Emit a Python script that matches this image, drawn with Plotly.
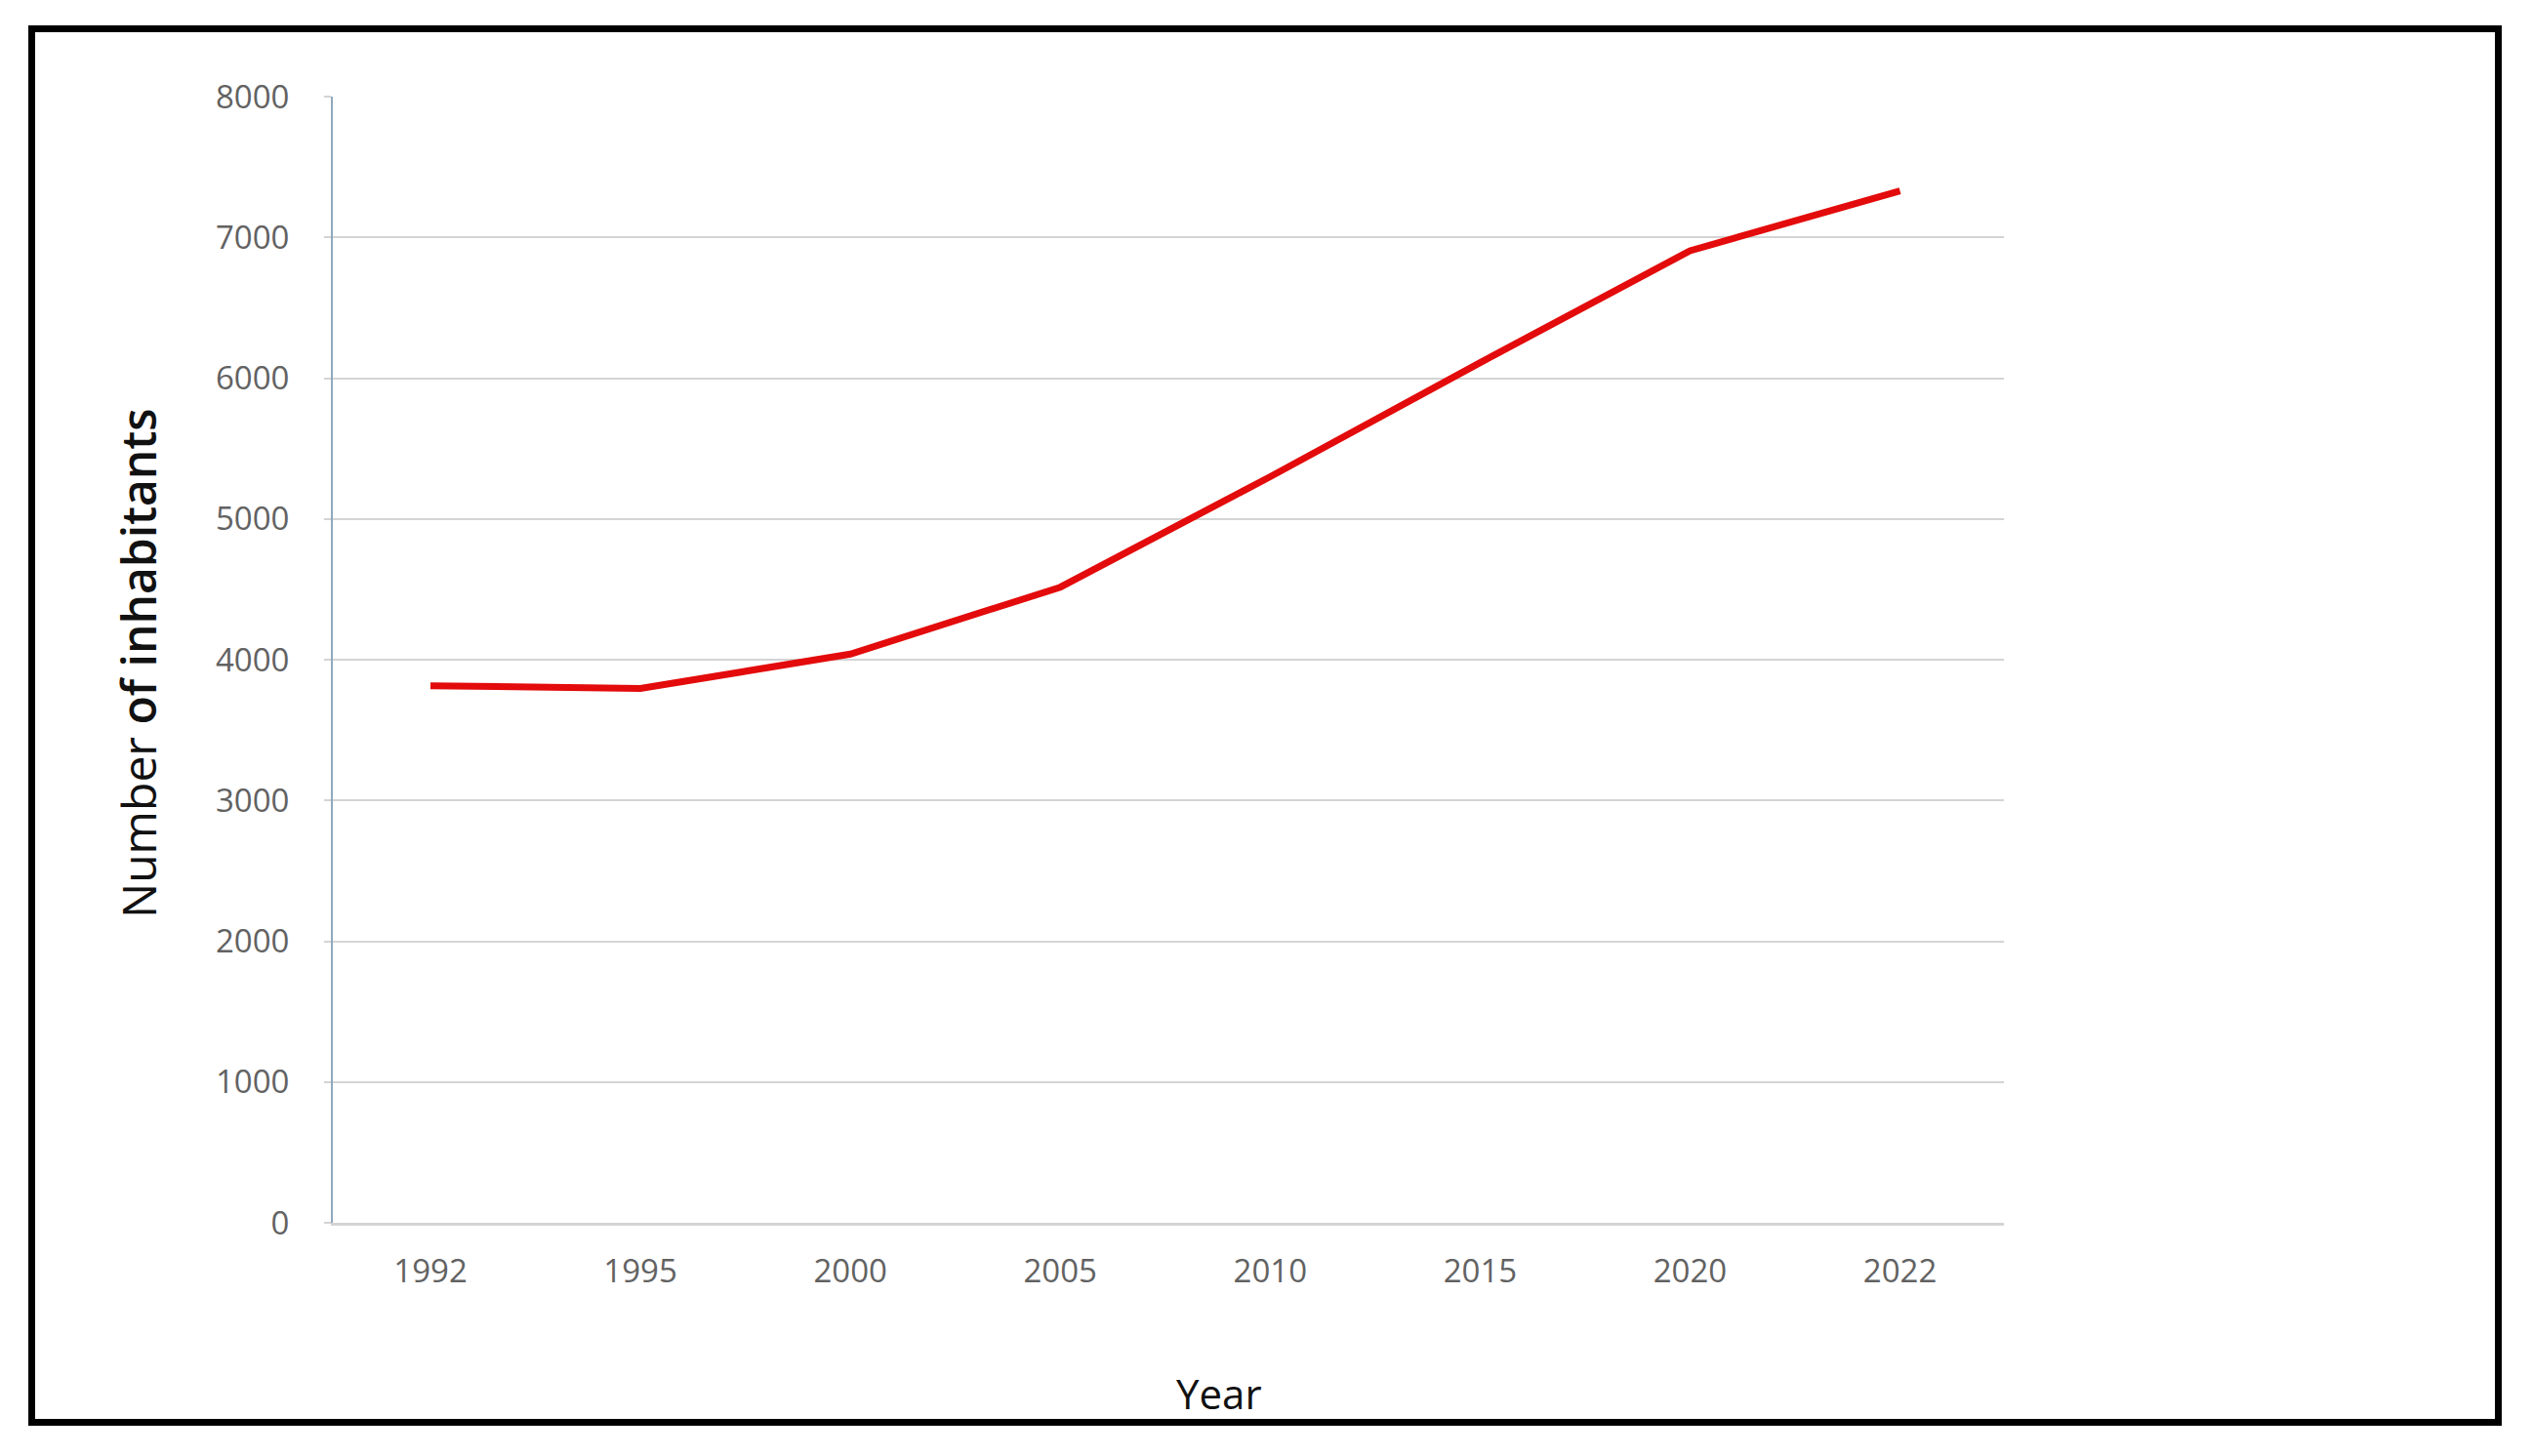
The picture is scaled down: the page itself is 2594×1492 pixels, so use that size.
import plotly.graph_objects as go

# ---- data ----
years = ["1992", "1995", "2000", "2005", "2010", "2015", "2020", "2022"]
inhabitants = [3815, 3795, 4040, 4515, 5300, 6110, 6905, 7330]
y_ticks = [0, 1000, 2000, 3000, 4000, 5000, 6000, 7000, 8000]
y_title = "Number of inhabitants"
x_title = "Year"

# ---- geometry (pixels) ----
W, H = 2594, 1492
L, R, T, B = 341, 2053, 99, 1253   # plot area edges
pw, ph = R - L, B - T

def px_x(px):
    return (px - L) / pw

def px_y(py):
    return (B - py) / ph

fig = go.Figure()
fig.add_trace(go.Scatter(
    x=years, y=inhabitants, mode="lines",
    line=dict(color="#e30b0b", width=7),
    hoverinfo="x+y", showlegend=False,
))

tick_font = dict(family="Open Sans", size=33, color="#626262")

fig.update_layout(
    width=W, height=H,
    margin=dict(l=L, r=W - R, t=T, b=H - B, pad=0),
    paper_bgcolor="white", plot_bgcolor="white",
    xaxis=dict(
        type="category", range=[-0.465, len(years) - 0.505],
        showgrid=False, showline=True, linecolor="#d4d4d4", linewidth=3,
        ticks="", tickfont=tick_font, ticklabelstandoff=18,
        zeroline=False, fixedrange=True,
    ),
    yaxis=dict(
        range=[0, 8000], tickvals=y_ticks,
        ticktext=[str(v) for v in y_ticks],
        showgrid=True, gridcolor="#d4d4d4", gridwidth=2,
        showline=True, linecolor="#8fa8bd", linewidth=2,
        ticks="outside", ticklen=7, tickcolor="#d4d4d4", tickwidth=2,
        tickfont=tick_font, ticklabelstandoff=29,
        zeroline=False, fixedrange=True,
    ),
    annotations=[
        dict(text="Number <span style='font-weight:600'>of inhabitants</span>",
             xref="paper", yref="paper", x=px_x(141), y=px_y(680),
             xanchor="center", yanchor="middle", textangle=-90, showarrow=False,
             font=dict(family="Open Sans", size=48, color="#111111")),
        dict(text=x_title, xref="paper", yref="paper",
             x=px_x(1249), y=px_y(1427), xanchor="center", yanchor="middle",
             showarrow=False,
             font=dict(family="Open Sans", size=42, color="#111111")),
    ],
    shapes=[
        dict(type="rect", xref="paper", yref="paper",
             x0=px_x(32.5), x1=px_x(2559.5), y0=px_y(1457.5), y1=px_y(29.5),
             line=dict(color="black", width=7), fillcolor="rgba(0,0,0,0)",
             layer="above"),
    ],
)

fig.write_html(
    "out.html",
    config={"displayModeBar": False},
    post_script="document.body.style.margin='0';document.body.style.padding='0';",
)
